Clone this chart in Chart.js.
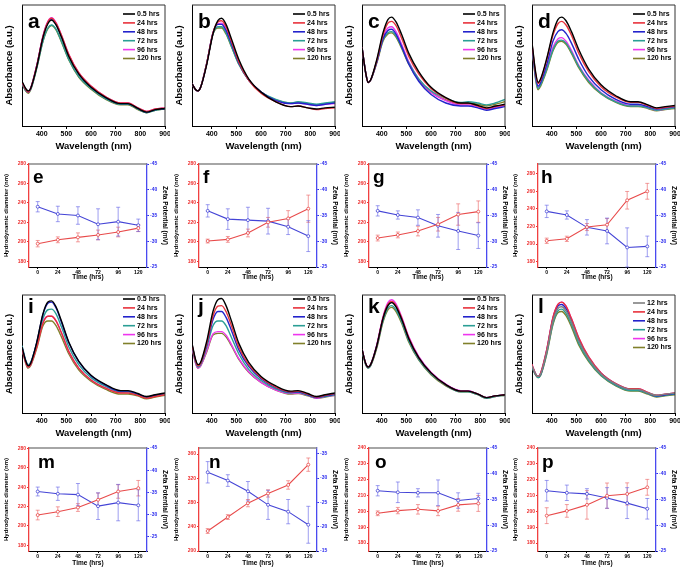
<!DOCTYPE html>
<html>
<head>
<meta charset="utf-8">
<script src="https://cdn.jsdelivr.net/npm/chart.js@4.4.1/dist/chart.umd.min.js"></script>
<style>
  html, body { margin: 0; padding: 0; background: #fff; }
  #fig { position: relative; width: 683px; height: 575px; overflow: hidden; background: #fff; }
  #fig canvas { position: absolute; }
</style>
</head>
<body>
<div id="fig"></div>
<script>
// ---- spectra data (absorbance, a.u.) ----
const wavelengths = [320,335,345,355,380,405,425,440,458,480,510,550,600,660,720,750,790,825,860,900];
const wlTicks = [400,500,600,700,800,900];
const hourLabels = ['0.5 hrs','24 hrs','48 hrs','72 hrs','96 hrs','120 hrs'];
const hourLabelsL = ['12 hrs','24 hrs','48 hrs','72 hrs','96 hrs','120 hrs'];

const absA05  = [0.37,0.31,0.29,0.31,0.49,0.73,0.845,0.875,0.835,0.735,0.575,0.43,0.32,0.235,0.185,0.185,0.145,0.115,0.135,0.145];
const absA24  = [0.36,0.30,0.28,0.31,0.50,0.74,0.86,0.89,0.85,0.75,0.59,0.44,0.33,0.24,0.19,0.19,0.15,0.12,0.14,0.15];
const absA48  = [0.36,0.30,0.28,0.31,0.50,0.735,0.855,0.88,0.84,0.74,0.58,0.43,0.32,0.235,0.185,0.185,0.145,0.115,0.135,0.145];
const absA72  = [0.35,0.29,0.28,0.30,0.48,0.70,0.81,0.835,0.80,0.70,0.55,0.41,0.31,0.225,0.18,0.18,0.14,0.11,0.13,0.14];
const absA96  = [0.36,0.30,0.28,0.31,0.50,0.745,0.865,0.895,0.855,0.75,0.59,0.44,0.33,0.24,0.19,0.19,0.15,0.12,0.14,0.15];
const absA120 = [0.35,0.29,0.27,0.30,0.48,0.70,0.805,0.83,0.795,0.695,0.545,0.405,0.305,0.22,0.175,0.175,0.135,0.11,0.13,0.14];

const absB05  = [0.35,0.30,0.29,0.32,0.51,0.76,0.87,0.89,0.84,0.72,0.55,0.39,0.28,0.20,0.16,0.165,0.15,0.14,0.15,0.155];
const absB24  = [0.35,0.30,0.29,0.32,0.52,0.77,0.86,0.87,0.82,0.70,0.53,0.38,0.27,0.20,0.16,0.165,0.15,0.135,0.145,0.15];
const absB48  = [0.35,0.30,0.29,0.32,0.52,0.77,0.84,0.84,0.79,0.68,0.52,0.38,0.28,0.21,0.185,0.19,0.18,0.17,0.18,0.19];
const absB72  = [0.35,0.30,0.29,0.32,0.52,0.76,0.82,0.82,0.77,0.66,0.51,0.38,0.28,0.22,0.19,0.20,0.19,0.18,0.19,0.20];
const absB96  = [0.35,0.30,0.29,0.32,0.52,0.77,0.845,0.85,0.80,0.69,0.52,0.38,0.28,0.21,0.185,0.19,0.18,0.17,0.18,0.185];
const absB120 = [0.35,0.30,0.29,0.32,0.52,0.76,0.81,0.81,0.76,0.655,0.51,0.38,0.28,0.215,0.19,0.195,0.185,0.175,0.185,0.195];

const absC05  = [0.65,0.44,0.36,0.38,0.55,0.77,0.88,0.90,0.86,0.76,0.60,0.45,0.32,0.235,0.19,0.19,0.17,0.15,0.165,0.18];
const absC24  = [0.65,0.44,0.36,0.38,0.54,0.75,0.85,0.865,0.83,0.73,0.575,0.43,0.31,0.23,0.185,0.185,0.165,0.145,0.16,0.175];
const absC48  = [0.65,0.44,0.36,0.38,0.53,0.72,0.79,0.80,0.76,0.66,0.51,0.37,0.26,0.19,0.165,0.165,0.15,0.13,0.145,0.16];
const absC72  = [0.65,0.44,0.36,0.38,0.53,0.71,0.77,0.78,0.745,0.655,0.52,0.39,0.29,0.23,0.195,0.20,0.19,0.175,0.19,0.22];
const absC96  = [0.65,0.44,0.36,0.38,0.53,0.73,0.81,0.82,0.78,0.68,0.53,0.39,0.28,0.21,0.175,0.175,0.16,0.14,0.155,0.17];
const absC120 = [0.65,0.44,0.36,0.38,0.52,0.70,0.76,0.77,0.735,0.645,0.51,0.38,0.28,0.215,0.185,0.19,0.18,0.165,0.18,0.20];

const absD05  = [0.69,0.44,0.36,0.39,0.56,0.77,0.88,0.90,0.87,0.78,0.63,0.47,0.34,0.25,0.20,0.20,0.175,0.15,0.16,0.17];
const absD24  = [0.68,0.43,0.35,0.38,0.55,0.75,0.845,0.865,0.835,0.75,0.60,0.45,0.325,0.24,0.195,0.195,0.17,0.145,0.155,0.165];
const absD48  = [0.67,0.41,0.33,0.36,0.51,0.70,0.78,0.795,0.765,0.685,0.55,0.41,0.30,0.22,0.18,0.18,0.16,0.14,0.15,0.16];
const absD72  = [0.66,0.39,0.31,0.34,0.47,0.63,0.70,0.71,0.685,0.61,0.49,0.37,0.27,0.20,0.165,0.165,0.15,0.13,0.14,0.15];
const absD96  = [0.66,0.40,0.32,0.35,0.48,0.65,0.72,0.73,0.70,0.625,0.50,0.38,0.275,0.205,0.17,0.17,0.15,0.13,0.14,0.155];
const absD120 = [0.66,0.38,0.30,0.33,0.46,0.62,0.69,0.70,0.675,0.60,0.48,0.36,0.265,0.195,0.16,0.16,0.145,0.125,0.135,0.145];

const absI05  = [0.56,0.44,0.40,0.42,0.60,0.84,0.94,0.95,0.90,0.78,0.60,0.44,0.32,0.24,0.19,0.19,0.165,0.14,0.155,0.17];
const absI24  = [0.55,0.43,0.39,0.41,0.56,0.76,0.82,0.82,0.78,0.68,0.52,0.38,0.28,0.21,0.17,0.17,0.15,0.125,0.14,0.155];
const absI48  = [0.56,0.44,0.40,0.42,0.60,0.835,0.93,0.94,0.89,0.77,0.595,0.435,0.315,0.235,0.185,0.185,0.16,0.135,0.15,0.165];
const absI72  = [0.57,0.45,0.41,0.43,0.59,0.80,0.875,0.88,0.84,0.73,0.56,0.41,0.30,0.225,0.18,0.18,0.155,0.13,0.145,0.16];
const absI96  = [0.55,0.43,0.39,0.41,0.57,0.77,0.82,0.82,0.78,0.68,0.52,0.38,0.28,0.21,0.175,0.18,0.16,0.135,0.15,0.16];
const absI120 = [0.55,0.42,0.38,0.40,0.55,0.74,0.78,0.78,0.74,0.645,0.50,0.365,0.27,0.20,0.16,0.16,0.145,0.12,0.135,0.15];

const absJ05  = [0.59,0.45,0.41,0.43,0.61,0.86,0.96,0.97,0.91,0.78,0.59,0.43,0.31,0.23,0.185,0.19,0.165,0.14,0.155,0.17];
const absJ24  = [0.58,0.44,0.40,0.42,0.59,0.82,0.905,0.91,0.86,0.74,0.56,0.41,0.30,0.22,0.18,0.185,0.16,0.135,0.15,0.165];
const absJ48  = [0.58,0.44,0.40,0.42,0.58,0.79,0.86,0.86,0.81,0.70,0.535,0.395,0.29,0.215,0.175,0.18,0.155,0.13,0.145,0.16];
const absJ72  = [0.57,0.43,0.39,0.41,0.56,0.74,0.78,0.78,0.74,0.64,0.50,0.37,0.275,0.205,0.17,0.175,0.15,0.13,0.14,0.155];
const absJ96  = [0.56,0.42,0.38,0.40,0.53,0.67,0.69,0.69,0.66,0.58,0.46,0.35,0.26,0.195,0.165,0.17,0.15,0.125,0.14,0.15];
const absJ120 = [0.56,0.42,0.38,0.40,0.52,0.66,0.675,0.675,0.645,0.57,0.455,0.345,0.26,0.195,0.16,0.165,0.145,0.125,0.135,0.15];

const absK05  = [0.54,0.42,0.39,0.41,0.57,0.80,0.91,0.935,0.90,0.80,0.63,0.47,0.34,0.24,0.185,0.185,0.16,0.13,0.145,0.155];
const absK24  = [0.54,0.42,0.39,0.41,0.57,0.805,0.92,0.945,0.91,0.81,0.635,0.47,0.34,0.24,0.185,0.185,0.16,0.13,0.145,0.155];
const absK48  = [0.54,0.42,0.39,0.41,0.57,0.80,0.915,0.94,0.905,0.80,0.63,0.47,0.34,0.24,0.185,0.185,0.16,0.13,0.145,0.155];
const absK72  = [0.53,0.41,0.38,0.40,0.56,0.78,0.89,0.91,0.875,0.78,0.61,0.455,0.33,0.235,0.18,0.18,0.155,0.125,0.14,0.15];
const absK96  = [0.54,0.42,0.39,0.41,0.58,0.815,0.935,0.96,0.925,0.82,0.645,0.48,0.345,0.245,0.19,0.19,0.16,0.13,0.145,0.155];
const absK120 = [0.53,0.41,0.38,0.40,0.55,0.77,0.875,0.895,0.86,0.765,0.60,0.45,0.325,0.23,0.18,0.18,0.155,0.125,0.14,0.15];

const absL12  = [0.40,0.33,0.31,0.33,0.52,0.78,0.885,0.90,0.865,0.77,0.61,0.46,0.33,0.245,0.20,0.20,0.17,0.15,0.16,0.17];
const absL24  = [0.41,0.33,0.31,0.34,0.54,0.81,0.92,0.94,0.905,0.80,0.635,0.475,0.34,0.25,0.205,0.205,0.175,0.15,0.16,0.17];
const absL48  = [0.40,0.33,0.31,0.33,0.53,0.80,0.905,0.92,0.885,0.785,0.62,0.465,0.335,0.245,0.20,0.20,0.17,0.145,0.155,0.165];
const absL72  = [0.39,0.32,0.30,0.32,0.51,0.76,0.865,0.88,0.845,0.75,0.59,0.445,0.32,0.235,0.19,0.19,0.165,0.14,0.15,0.16];
const absL96  = [0.41,0.33,0.31,0.34,0.54,0.81,0.92,0.94,0.905,0.80,0.635,0.475,0.34,0.25,0.205,0.205,0.175,0.15,0.16,0.17];
const absL120 = [0.39,0.32,0.30,0.32,0.50,0.75,0.85,0.86,0.825,0.73,0.575,0.435,0.315,0.23,0.185,0.185,0.16,0.135,0.145,0.155];

// ---- DLS / zeta data ----
const times = [0,24,48,72,96,120];
const timeTicks = [0,24,48,72,96,120];

const diamE = [198,202,204.5,207,210,214],        diamErrE = [3.3,3,4.6,5,5,3.6];
const zetaE = [-36.7,-35.3,-35.0,-33.3,-33.8,-33.1], zetaErrE = [1.0,1.5,1.7,3.0,2.8,1.2];
const diamF = [200.7,202.4,209,220,224,234],      diamErrF = [2,3,4,5,8,14];
const zetaF = [-35.9,-34.3,-34.1,-33.9,-32.8,-31.0], zetaErrF = [1.2,2.0,2.5,2.5,1.5,3.0];
const diamG = [203.8,207,211,218,228,231],        diamErrG = [3,3,5,7,11,11];
const zetaG = [-35.9,-35.1,-34.6,-33.0,-32.0,-31.1], zetaErrG = [1.0,0.8,1.5,2.2,3.6,2.5];
const diamH = [203.8,206,219.4,222,249.8,260],    diamErrH = [3,3,4,7,10,9];
const zetaH = [-35.8,-35.1,-32.7,-32.0,-28.8,-29.0], zetaErrH = [1.2,0.8,1.5,2.5,3.8,2.0];
const diamM = [211.2,214.7,219,227,235.6,239],    diamErrM = [5,5,4,7,7,8];
const zetaM = [-35.2,-34.7,-34.5,-31.9,-32.7,-32.1], zetaErrM = [1.0,1.5,2.5,3.0,4.1,3.5];
const diamN = [233,256,279,295,309,342.5],        diamErrN = [4,4,6,6,7,11];
const zetaN = [-31.2,-29.5,-27.3,-24.5,-23.1,-20.4], zetaErrN = [2.2,1.2,2.0,3.0,2.5,3.8];
const diamO = [198.8,200.5,201.3,200.3,204.1,205], diamErrO = [1.5,2,3,3,4,5];
const zetaO = [-36.7,-36.4,-36.3,-36.3,-34.8,-35.2], zetaErrO = [1,2,0.8,2.5,1.5,1];
const diamP = [197.3,200.3,204.1,209.9,211,215.2], diamErrP = [5,4,9,8,7,5];
const zetaP = [-36.7,-36.3,-36.1,-35.3,-34.3,-33.2], zetaErrP = [2,1.5,1,2,3,2];

const diamTicks180 = [180,200,220,240,260,280];
const diamTicksN = [200,240,280,320,360];
const diamTicksOP = [180,190,200,210,220,230,240];
const zetaTicks = [-45,-40,-35,-30,-25];
const zetaTicksN = [-35,-30,-25,-20,-15];

const specColors  = ['#000000','#e8323c','#2323cc','#2b9e95','#ee36ee','#80802a'];
const specColorsL = ['#808080','#e8323c','#2323cc','#2b9e95','#ee36ee','#80802a'];
const RED = '#e84a4a', BLUE = '#4444d6';

Chart.defaults.font.family = '"Liberation Sans", Arial, sans-serif';
Chart.defaults.font.weight = 'bold';
Chart.defaults.color = '#000';

const fig = document.getElementById('fig');
const FONT = '"Liberation Sans", Arial, sans-serif';

function addCanvas(left, top, w, h) {
  const c = document.createElement('canvas');
  c.width = w; c.height = h;
  c.style.left = left + 'px'; c.style.top = top + 'px';
  c.style.width = w + 'px'; c.style.height = h + 'px';
  fig.appendChild(c);
  return c;
}

// pin axis box sizes so every panel lines up
function fixBox(w, h) {
  return s => {
    if (w != null) s.width = w;
    if (h != null) s.height = h;
    s.paddingLeft = s.paddingRight = s.paddingTop = s.paddingBottom = 0;
  };
}
const setTicks = vals => s => { s.ticks = vals.map(v => ({ value: v })); };

const panelPlugin = {
  id: 'panel',
  beforeDatasetsDraw(chart) {
    const ctx = chart.ctx;
    chart.data.datasets.forEach((ds, di) => {
      if (!ds.errors) return;
      const meta = chart.getDatasetMeta(di);
      const ys = chart.scales[ds.yAxisID];
      ctx.save();
      ctx.strokeStyle = ds.errColor;
      ctx.lineWidth = 1;
      meta.data.forEach((pt, i) => {
        const v = ds.data[i].y, e = ds.errors[i];
        const y1 = ys.getPixelForValue(v - e), y2 = ys.getPixelForValue(v + e);
        ctx.beginPath();
        ctx.moveTo(pt.x, y1); ctx.lineTo(pt.x, y2);
        ctx.moveTo(pt.x - 2, y1); ctx.lineTo(pt.x + 2, y1);
        ctx.moveTo(pt.x - 2, y2); ctx.lineTo(pt.x + 2, y2);
        ctx.stroke();
      });
      ctx.restore();
    });
  },
  afterDraw(chart, args, o) {
    const { ctx, chartArea: a } = chart;
    ctx.save();
    ctx.strokeStyle = o.frame;
    ctx.lineWidth = o.frameWidth;
    ctx.beginPath();
    ctx.moveTo(a.left, a.top); ctx.lineTo(a.right, a.top);
    if (o.frameRight) ctx.lineTo(a.right, a.bottom);
    ctx.stroke();

    ctx.fillStyle = '#000';
    ctx.font = 'bold ' + o.size + 'px ' + FONT;
    ctx.textBaseline = 'alphabetic';
    ctx.fillText(o.letter, a.left + o.dx, a.top + o.dy);

    if (o.legend) {
      ctx.font = 'bold 7px ' + FONT;
      ctx.textBaseline = 'middle';
      chart.data.datasets.forEach((ds, i) => {
        const y = a.top + o.legendDy + i * 8.9;
        ctx.strokeStyle = ds.borderColor;
        ctx.lineWidth = 1.6;
        ctx.beginPath(); ctx.moveTo(a.right - 42, y); ctx.lineTo(a.right - 30, y); ctx.stroke();
        ctx.fillStyle = '#000';
        ctx.fillText(ds.label, a.right - 28, y);
      });
    }
    ctx.restore();
  }
};

function spectraPanel(p) {
  const canvas = addCanvas(p.left, p.top, 170, p.h);
  new Chart(canvas, {
    type: 'line',
    data: {
      datasets: p.series.map((vals, i) => ({
        label: p.labels[i],
        data: wavelengths.map((w, k) => ({ x: w, y: vals[k] })),
        borderColor: p.colors[i],
        borderWidth: 1.4,
        pointRadius: 0,
        cubicInterpolationMode: 'monotone',
        fill: false
      }))
    },
    options: {
      responsive: false, animation: false, devicePixelRatio: 1,
      layout: { padding: { top: p.padTop, right: 5, left: 0, bottom: 0 } },
      plugins: {
        legend: { display: false }, tooltip: { enabled: false },
        panel: { letter: p.letter, dx: 6, dy: p.letterDy, size: 21, legend: true, legendDy: p.legendDy,
                 frame: '#333', frameWidth: 1, frameRight: true }
      },
      scales: {
        x: {
          type: 'linear', min: 320, max: 900,
          afterBuildTicks: setTicks(wlTicks),
          afterFit: fixBox(null, p.xh),
          ticks: { font: { size: 7, weight: 'bold' }, color: '#000', padding: 1, maxRotation: 0, autoSkip: false },
          grid: { display: true, drawOnChartArea: false, tickLength: 3, tickColor: '#000' },
          border: { color: '#000', width: 1 },
          title: { display: true, text: 'Wavelength (nm)', font: { size: 9.5, weight: 'bold' }, padding: { top: 0, bottom: p.titlePad } }
        },
        y: {
          min: 0, max: 1,
          afterFit: fixBox(22, null),
          ticks: { display: false },
          grid: { display: false },
          border: { color: '#000', width: 1 },
          title: { display: true, text: 'Absorbance (a.u.)', font: { size: 9.5, weight: 'bold' }, padding: { top: 4, bottom: 0 } }
        }
      }
    },
    plugins: [panelPlugin]
  });
}

function dlsPanel(p) {
  const canvas = addCanvas(p.left, p.top, 170, p.h);
  new Chart(canvas, {
    type: 'line',
    data: {
      datasets: [
        {
          label: 'Hydrodynamic diameter', yAxisID: 'y',
          data: times.map((t, i) => ({ x: t, y: p.diam[i] })),
          errors: p.diamErr, errColor: 'rgba(235,95,95,0.6)',
          borderColor: RED, borderWidth: 1.1, pointRadius: 1.5, pointBorderWidth: 0.8,
          pointBackgroundColor: '#fff', pointBorderColor: RED, tension: 0
        },
        {
          label: 'Zeta potential', yAxisID: 'y1',
          data: times.map((t, i) => ({ x: t, y: p.zeta[i] })),
          errors: p.zetaErr, errColor: 'rgba(95,95,230,0.6)',
          borderColor: BLUE, borderWidth: 1.1, pointRadius: 1.5, pointBorderWidth: 0.8,
          pointBackgroundColor: '#fff', pointBorderColor: BLUE, tension: 0
        }
      ]
    },
    options: {
      responsive: false, animation: false, devicePixelRatio: 1,
      layout: { padding: { top: p.padTop, right: 0, left: 0, bottom: 0 } },
      plugins: {
        legend: { display: false }, tooltip: { enabled: false },
        panel: { letter: p.letter, dx: p.letterDx, dy: p.letterDy, size: 19, legend: false,
                 frame: '#888', frameWidth: 1.5, frameRight: false }
      },
      scales: {
        x: {
          type: 'linear', min: -10.4, max: 130.4,
          afterBuildTicks: setTicks(timeTicks),
          afterFit: fixBox(null, p.xh),
          ticks: { font: { size: 5, weight: 'bold' }, color: '#000', padding: 1, maxRotation: 0, autoSkip: false },
          grid: { display: true, drawOnChartArea: false, tickLength: 2, tickColor: '#000' },
          border: { color: '#000', width: 1 },
          title: { display: true, text: 'Time (hrs)', font: { size: 6.5, weight: 'bold' }, padding: { top: 0, bottom: p.titlePad } }
        },
        y: {
          position: 'left', min: p.dMin, max: p.dMax,
          afterBuildTicks: setTicks(p.dTicks),
          afterFit: fixBox(29, null),
          ticks: { font: { size: 5, weight: 'bold' }, color: '#ee2e2e', padding: 1, autoSkip: false },
          grid: { display: true, drawOnChartArea: false, tickLength: 2, tickColor: '#ee2e2e' },
          border: { color: '#f04040', width: 1.3 },
          title: { display: true, text: 'Hydrodynamic diameter (nm)', font: { size: 6, weight: 'bold' }, padding: { top: 3, bottom: 0 } }
        },
        y1: {
          position: 'right', reverse: true, min: p.zMin, max: p.zMax,
          afterBuildTicks: setTicks(p.zTicks),
          afterFit: fixBox(23, null),
          ticks: { font: { size: 5, weight: 'bold' }, color: '#2e2eee', padding: 1, autoSkip: false },
          grid: { display: true, drawOnChartArea: false, tickLength: 2, tickColor: '#2e2eee' },
          border: { color: '#4a4af0', width: 1.3 },
          title: { display: true, text: 'Zeta Potential (mV)', font: { size: 6.5, weight: 'bold' }, padding: { top: 1, bottom: 0 } }
        }
      }
    },
    plugins: [panelPlugin]
  });
}

// ---- row 1 / row 3 : spectra ----
const row1 = { top: 0, h: 152, padTop: 5, xh: 26, titlePad: 0, letterDy: 23, legendDy: 9 };
const row3 = { top: 290, h: 150, padTop: 5, xh: 27, titlePad: 1, letterDy: 18, legendDy: 4 };

spectraPanel({ ...row1, left: 0,   letter: 'a', labels: hourLabels, colors: specColors, series: [absA05, absA24, absA48, absA72, absA96, absA120] });
spectraPanel({ ...row1, left: 170, letter: 'b', labels: hourLabels, colors: specColors, series: [absB05, absB24, absB48, absB72, absB96, absB120] });
spectraPanel({ ...row1, left: 340, letter: 'c', labels: hourLabels, colors: specColors, series: [absC05, absC24, absC48, absC72, absC96, absC120] });
spectraPanel({ ...row1, left: 510, letter: 'd', labels: hourLabels, colors: specColors, series: [absD05, absD24, absD48, absD72, absD96, absD120] });

spectraPanel({ ...row3, left: 0,   letter: 'i', labels: hourLabels, colors: specColors, series: [absI05, absI24, absI48, absI72, absI96, absI120] });
spectraPanel({ ...row3, left: 170, letter: 'j', labels: hourLabels, colors: specColors, series: [absJ05, absJ24, absJ48, absJ72, absJ96, absJ120] });
spectraPanel({ ...row3, left: 340, letter: 'k', labels: hourLabels, colors: specColors, series: [absK05, absK24, absK48, absK72, absK96, absK120] });
spectraPanel({ ...row3, left: 510, letter: 'l', labels: hourLabelsL, colors: specColorsL, legendDy: 8, series: [absL12, absL24, absL48, absL72, absL96, absL120] });

// ---- row 2 / row 4 : size and zeta potential ----
const row2 = { top: 152, h: 138, padTop: 12, xh: 23, titlePad: 9, letterDy: 19, letterDx: 4 };
const row4 = { top: 440, h: 135, padTop: 8, xh: 24, titlePad: 8, letterDy: 20 };
const std = { dMin: 174, dMax: 280, dTicks: diamTicks180, zMin: -45, zMax: -25, zTicks: zetaTicks };

dlsPanel({ ...row2, ...std, left: 0,   letter: 'e', diam: diamE, diamErr: diamErrE, zeta: zetaE, zetaErr: zetaErrE });
dlsPanel({ ...row2, ...std, left: 170, letter: 'f', diam: diamF, diamErr: diamErrF, zeta: zetaF, zetaErr: zetaErrF });
dlsPanel({ ...row2, ...std, left: 340, letter: 'g', diam: diamG, diamErr: diamErrG, zeta: zetaG, zetaErr: zetaErrG });
dlsPanel({ ...row2, ...std, left: 509, letter: 'h', dMax: 291, diam: diamH, diamErr: diamErrH, zeta: zetaH, zetaErr: zetaErrH, letterDx: 3 });

dlsPanel({ ...row4, ...std, left: 0,   letter: 'm', letterDx: 9, dMax: 280.6, zMax: -21.8, diam: diamM, diamErr: diamErrM, zeta: zetaM, zetaErr: zetaErrM });
dlsPanel({ ...row4, left: 170, letter: 'n', letterDx: 10, dMin: 200, dMax: 370, dTicks: diamTicksN, zMin: -36.2, zMax: -15, zTicks: zetaTicksN,
           diam: diamN, diamErr: diamErrN, zeta: zetaN, zetaErr: zetaErrN });
dlsPanel({ ...row4, ...std, left: 340, letter: 'o', letterDx: 6, dMin: 175, dMax: 240, dTicks: diamTicksOP, diam: diamO, diamErr: diamErrO, zeta: zetaO, zetaErr: zetaErrO });
dlsPanel({ ...row4, ...std, left: 509, letter: 'p', letterDx: 4, dMin: 175, dMax: 240, dTicks: diamTicksOP, diam: diamP, diamErr: diamErrP, zeta: zetaP, zetaErr: zetaErrP });
</script>
</body>
</html>
